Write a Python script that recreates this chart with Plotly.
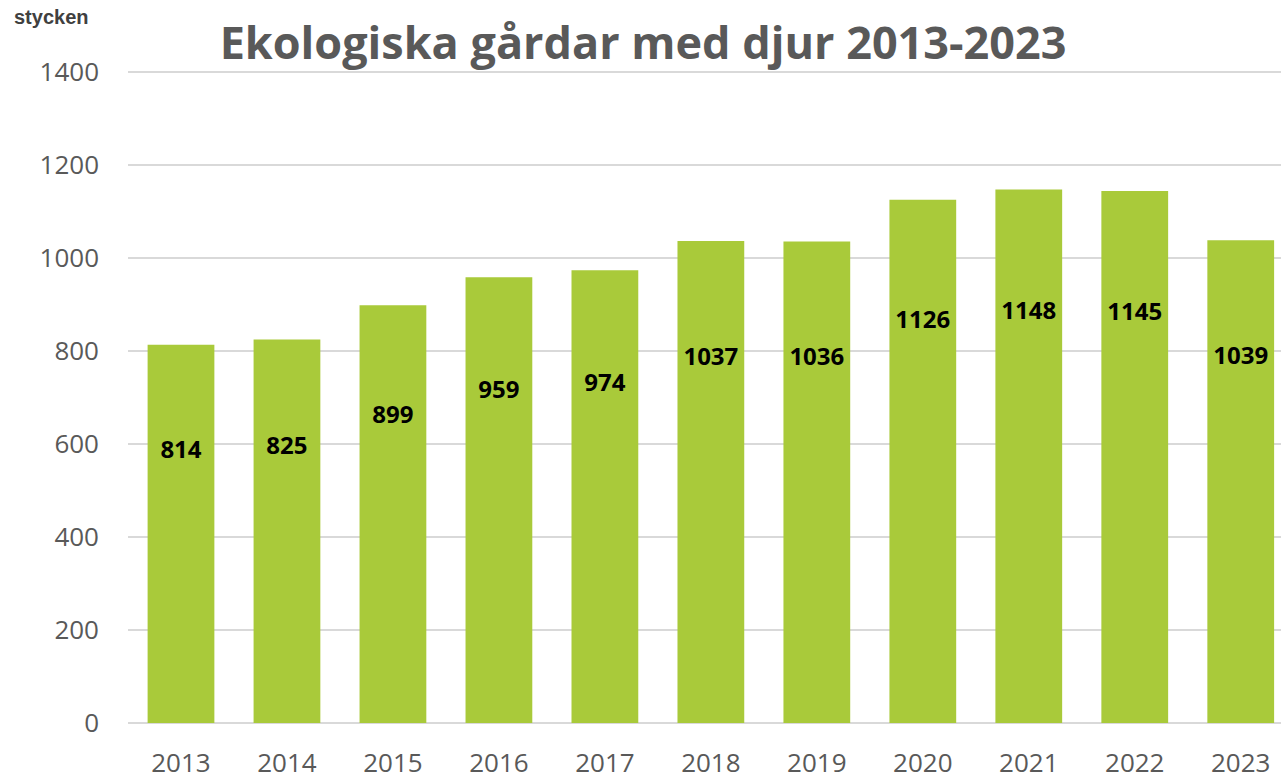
import plotly.graph_objects as go

# ---------------------------------------
# Data
# ---------------------------------------

years = ["2013", "2014", "2015", "2016", "2017", "2018",
         "2019", "2020", "2021", "2022", "2023"]

farms = [814, 825, 899, 959, 974, 1037, 1036, 1126, 1148, 1145, 1039]

y_ticks = [0, 200, 400, 600, 800, 1000, 1200, 1400]

GREEN = "#A9CA3A"
GREY = "#595959"

# labels sit a bit below the top of each bar
label_y = [0.9 * v - 150 for v in farms]

fig = go.Figure()

fig.add_trace(go.Bar(
    x=years,
    y=farms,
    marker=dict(color=GREEN, line=dict(width=0)),
    hoverinfo="x+y",
))

fig.add_trace(go.Scatter(
    x=years,
    y=label_y,
    mode="text",
    text=[str(v) for v in farms],
    textfont=dict(family="Open Sans", size=24, color="black", weight="bold"),
    hoverinfo="skip",
))

fig.update_layout(
    width=1281,
    height=780,
    margin=dict(l=128, r=0, t=71, b=55),
    plot_bgcolor="white",
    paper_bgcolor="white",
    showlegend=False,
    bargap=0.37,
    title=dict(
        text="<b>Ekologiska gårdar med djur 2013-2023</b>",
        x=0.502,
        xanchor="center",
        y=0.945,
        yanchor="middle",
        font=dict(family="Open Sans", size=45, color=GREY),
    ),
)

fig.update_xaxes(
    type="category",
    range=[-0.5, 10.38],
    showgrid=False,
    showline=False,
    ticks="",
    ticklabelstandoff=22,
    tickfont=dict(family="Open Sans", size=26, color=GREY),
)

fig.update_yaxes(
    range=[0, 1403],
    tickvals=y_ticks,
    showgrid=True,
    gridcolor="#D9D9D9",
    gridwidth=2,
    zeroline=True,
    zerolinecolor="#D9D9D9",
    zerolinewidth=2,
    showline=False,
    ticks="",
    ticklabelstandoff=28,
    tickfont=dict(family="Open Sans", size=26, color=GREY),
)

fig.add_annotation(
    text="<b>stycken</b>",
    xref="paper", yref="paper",
    x=-116 / 1153, y=1 + 54 / 654,
    xanchor="left", yanchor="middle",
    showarrow=False,
    font=dict(family="Liberation Sans", size=20, color="#404040"),
)

fig.write_html(
    "out.html",
    config={"displayModeBar": False},
    post_script="document.body.style.margin='0px';",
)
